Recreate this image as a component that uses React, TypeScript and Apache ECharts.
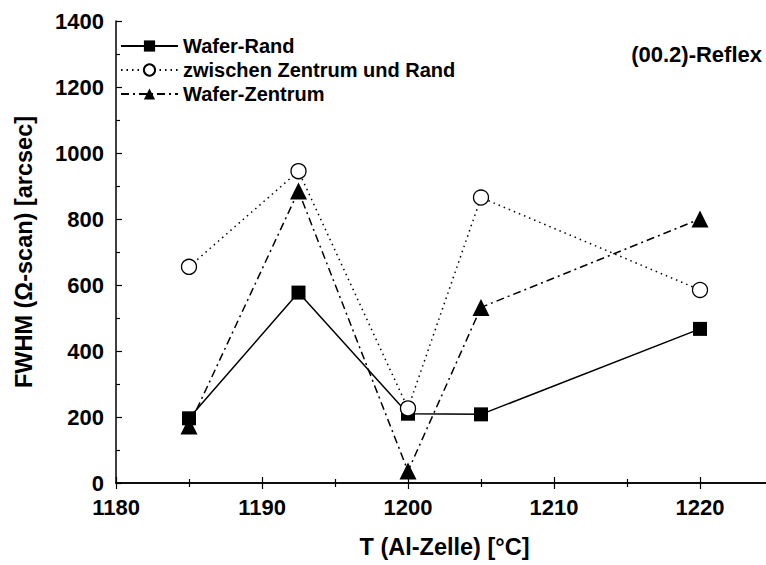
import React, { useEffect, useRef } from "react";
import * as echarts from "echarts";

const temperatures = [1185, 1192.5, 1200, 1205, 1220];
const waferRand = [196, 577, 210, 208, 467];
const zwischen = [655, 945, 226, 865, 585];
const waferZentrum = [173, 885, 36, 532, 800];

const seriesNames = ["Wafer-Rand", "zwischen Zentrum und Rand", "Wafer-Zentrum"];
const FONT = "'Liberation Sans', Arial, sans-serif";

function pairs(ys: number[]) {
  return temperatures.map((x, i) => [x, ys[i]]);
}

export default function App() {
  const ref = useRef<HTMLDivElement>(null);
  useEffect(() => {
    if (!ref.current) return;
    const chart = echarts.init(ref.current, undefined, { renderer: "svg" });
    const axisLine = { show: true, lineStyle: { color: "#000", width: 1.5 } };
    const tick = { show: true, inside: true, length: 6, lineStyle: { color: "#000", width: 1.2 } };
    const minor = { show: true, splitNumber: 2, length: 4, lineStyle: { color: "#000", width: 1.2 } };
    const label = { color: "#000", fontWeight: "bold" as const, fontSize: 22, fontFamily: FONT };
    const nameStyle = { color: "#000", fontWeight: "bold" as const, fontSize: 23.5, fontFamily: FONT };
    chart.setOption({
      animation: false,
      backgroundColor: "#fff",
      grid: {
        left: 116,
        top: 21,
        width: 657,
        height: 462,
        containLabel: false,
        outerBoundsMode: "none",
      },
      legend: {
        data: seriesNames,
        orient: "vertical",
        left: 120,
        top: 36,
        padding: 0,
        itemWidth: 57,
        itemHeight: 14,
        itemGap: 4,
        textStyle: { color: "#000", fontWeight: "bold", fontSize: 20, fontFamily: FONT },
      },
      graphic: [
        {
          type: "text",
          right: 4,
          top: 43,
          style: { text: "(00.2)-Reflex", fill: "#000", font: `bold 22px ${FONT}` },
        },
      ],
      xAxis: [
        {
          type: "value",
          min: 1180,
          max: 1225,
          interval: 10,
          position: "bottom",
          axisLine,
          axisTick: tick,
          minorTick: minor,
          splitLine: { show: false },
          axisLabel: {
            ...label,
            margin: 13,
            showMaxLabel: false,
            formatter: (v: number) => (v > 1220 ? "" : String(v)),
          },
          name: "T (Al-Zelle) [°C]",
          nameLocation: "middle",
          nameGap: 52,
          nameTextStyle: nameStyle,
        },
        {
          type: "value",
          min: 1180,
          max: 1225,
          interval: 10,
          position: "top",
          axisLine,
          axisTick: tick,
          minorTick: minor,
          splitLine: { show: false },
          axisLabel: { show: false },
        },
      ],
      yAxis: [
        {
          type: "value",
          min: 0,
          max: 1400,
          interval: 200,
          position: "left",
          axisLine,
          axisTick: tick,
          minorTick: minor,
          splitLine: { show: false },
          axisLabel: { ...label, margin: 12, formatter: (v: number) => String(v) },
          name: "FWHM (Ω-scan) [arcsec]",
          nameLocation: "middle",
          nameRotate: 90,
          nameGap: 80,
          nameTextStyle: nameStyle,
        },
        {
          type: "value",
          min: 0,
          max: 1400,
          interval: 200,
          position: "right",
          axisLine,
          axisTick: tick,
          minorTick: minor,
          splitLine: { show: false },
          axisLabel: { show: false },
        },
      ],
      series: [
        {
          name: "Wafer-Zentrum",
          type: "line",
          data: pairs(waferZentrum),
          symbol: "triangle",
          symbolSize: 17,
          itemStyle: { color: "#000", borderWidth: 0 },
          lineStyle: { color: "#000", width: 1.5, type: [8, 4, 2, 4] },
          z: 2,
        },
        {
          name: "Wafer-Rand",
          type: "line",
          data: pairs(waferRand),
          symbol: "rect",
          symbolSize: 14,
          itemStyle: { color: "#000", borderWidth: 0 },
          lineStyle: { color: "#000", width: 1.5, type: "solid" },
          z: 3,
        },
        {
          name: "zwischen Zentrum und Rand",
          type: "line",
          data: pairs(zwischen),
          symbol: "circle",
          symbolSize: 15,
          itemStyle: { color: "#fff", borderColor: "#000", borderWidth: 1.3 },
          lineStyle: { color: "#000", width: 1.5, type: [1.5, 4] },
          z: 4,
        },
      ],
    });
    return () => chart.dispose();
  }, []);
  return (
    <div
      ref={ref}
      style={{ position: "absolute", left: 0, top: 0, width: 766, height: 565 }}
    />
  );
}
